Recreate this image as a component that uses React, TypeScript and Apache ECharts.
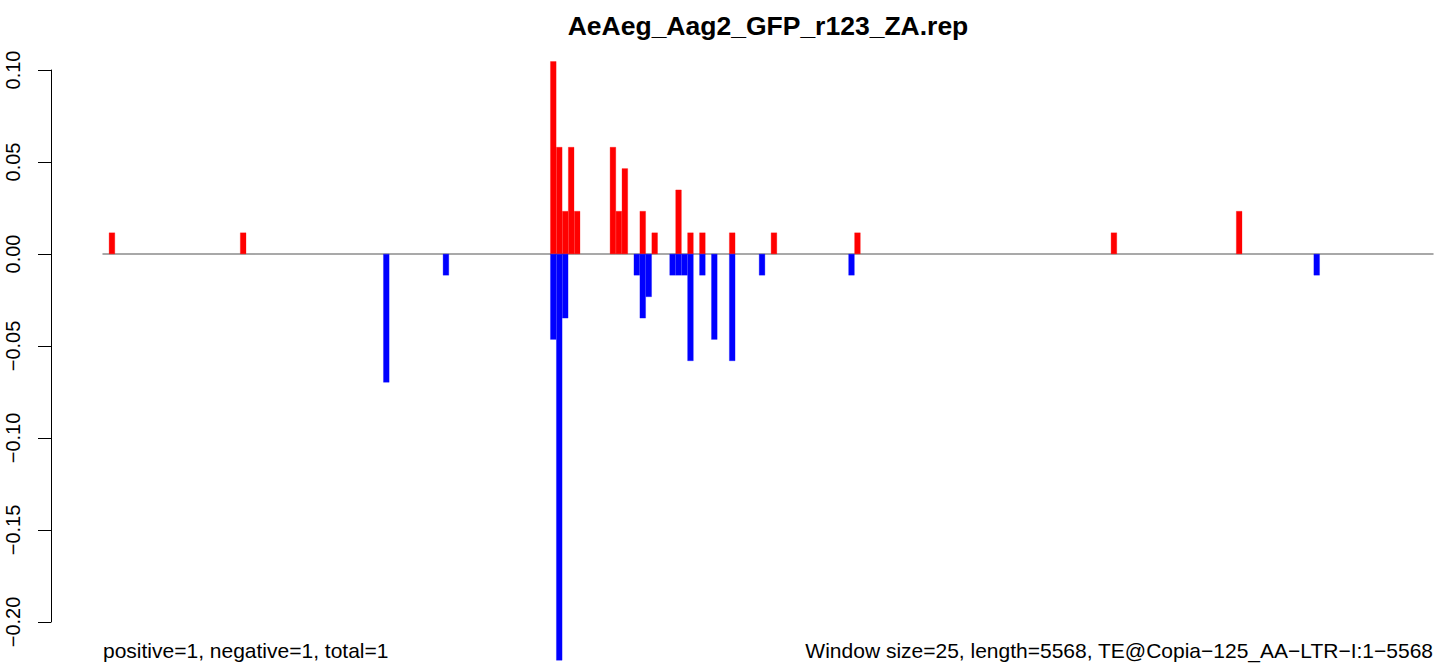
import React, { useEffect, useRef } from "react";
import * as echarts from "echarts";

// Window bins (25 bp each) across a TE of length 5568 bp
const WINDOW = 25;
const TE_LENGTH = 5568;
const N_BINS = Math.ceil(TE_LENGTH / WINDOW); // 223

const TITLE = "AeAeg_Aag2_GFP_r123_ZA.rep";
const FOOT_LEFT = "positive=1, negative=1, total=1";
const FOOT_RIGHT = "Window size=25, length=5568, TE@Copia\u2212125_AA\u2212LTR\u2212I:1\u22125568";

// positive strand bins and values
const posBins = [1, 23, 75, 76, 77, 78, 79, 85, 86, 87, 90, 92, 96, 98, 100, 105, 112, 126, 169, 190];
const posValues = [
  0.0116, 0.0116, 0.1047, 0.0581, 0.0233, 0.0581, 0.0233, 0.0581, 0.0233, 0.0465,
  0.0233, 0.0116, 0.0349, 0.0116, 0.0116, 0.0116, 0.0116, 0.0116, 0.0116, 0.0233,
];

// negative strand bins and values
const negBins = [47, 57, 75, 76, 77, 89, 90, 91, 95, 96, 97, 98, 100, 102, 105, 110, 125, 203];
const negValues = [
  -0.0698, -0.0116, -0.0465, -0.2209, -0.0349, -0.0116, -0.0349, -0.0233, -0.0116, -0.0116,
  -0.0116, -0.0581, -0.0116, -0.0465, -0.0581, -0.0116, -0.0116, -0.0116,
];

// y tick range
const Y_TICK_MIN = -0.2;
const Y_TICK_MAX = 0.1;
const Y_TICK_STEP = 0.05;

const FONT = "'Liberation Sans', Arial, Helvetica, sans-serif";

function fill(bins: number[], values: number[]) {
  const arr: (number | null)[] = new Array(N_BINS).fill(null);
  bins.forEach((b, i) => {
    arr[b] = values[i];
  });
  return arr;
}

export default function App() {
  const ref = useRef<HTMLDivElement>(null);

  useEffect(() => {
    if (!ref.current) return;
    const chart = echarts.init(ref.current, null, { renderer: "svg" });
    const categories = Array.from({ length: N_BINS }, (_, i) => String(i * WINDOW));

    // axis grid: 0.10 at y=70, -0.20 at y=622 -> 1840 px per unit
    const pxPerUnit = 552 / (Y_TICK_MAX - Y_TICK_MIN);
    const dataMax = 0.12;
    const dataMin = -0.222;
    const dataTop = 70 - (dataMax - Y_TICK_MAX) * pxPerUnit;
    const dataHeight = (dataMax - dataMin) * pxPerUnit;

    chart.setOption({
      animation: false,
      backgroundColor: "#ffffff",
      textStyle: { fontFamily: FONT },
      grid: [
        { left: 51, top: 70, width: 1, height: 552 },
        { left: 103, top: dataTop, width: 1330, height: dataHeight },
      ],
      xAxis: [
        { gridIndex: 0, type: "value", show: false, min: 0, max: 1 },
        {
          gridIndex: 1,
          type: "category",
          data: categories,
          axisLine: { show: true, onZero: true, lineStyle: { color: "#8c8c8c", width: 1.5 } },
          axisTick: { show: false },
          axisLabel: { show: false },
          splitLine: { show: false },
        },
      ],
      yAxis: [
        {
          gridIndex: 0,
          type: "value",
          min: Y_TICK_MIN,
          max: Y_TICK_MAX,
          interval: Y_TICK_STEP,
          axisLine: { show: true, lineStyle: { color: "#000", width: 1 } },
          axisTick: { show: true, length: 13, lineStyle: { color: "#000", width: 1 } },
          splitLine: { show: false },
          axisLabel: {
            rotate: 90,
            margin: 28,
            fontSize: 20,
            color: "#000",
            fontFamily: FONT,
            formatter: (v: number) => v.toFixed(2).replace("-", "\u2212"),
          },
        },
        {
          gridIndex: 1,
          type: "value",
          min: dataMin,
          max: dataMax,
          show: false,
          splitLine: { show: false },
        },
      ],
      series: [
        {
          type: "bar",
          xAxisIndex: 1,
          yAxisIndex: 1,
          data: fill(posBins, posValues),
          barGap: "-100%",
          barCategoryGap: "0%",
          itemStyle: { color: "#ff0000", borderColor: "#ff0000", borderWidth: 0.3 },
          z: 1,
        },
        {
          type: "bar",
          xAxisIndex: 1,
          yAxisIndex: 1,
          data: fill(negBins, negValues),
          barGap: "-100%",
          barCategoryGap: "0%",
          itemStyle: { color: "#0000ff", borderColor: "#0000ff", borderWidth: 0.3 },
          z: 1,
        },
      ],
      graphic: [
        {
          type: "text",
          x: 768,
          y: 26,
          style: {
            text: TITLE,
            font: `bold 26.5px ${FONT}`,
            fill: "#000",
            textAlign: "center",
            textVerticalAlign: "middle",
          },
        },
        {
          type: "text",
          x: 103,
          y: 650,
          style: {
            text: FOOT_LEFT,
            font: `21px ${FONT}`,
            fill: "#000",
            textAlign: "left",
            textVerticalAlign: "middle",
          },
        },
        {
          type: "text",
          x: 1433,
          y: 650,
          style: {
            text: FOOT_RIGHT,
            font: `21px ${FONT}`,
            fill: "#000",
            textAlign: "right",
            textVerticalAlign: "middle",
          },
        },
      ],
    });

    return () => chart.dispose();
  }, []);

  return (
    <div
      ref={ref}
      style={{ position: "fixed", left: 0, top: 0, width: 1439, height: 664, background: "#fff" }}
    />
  );
}
